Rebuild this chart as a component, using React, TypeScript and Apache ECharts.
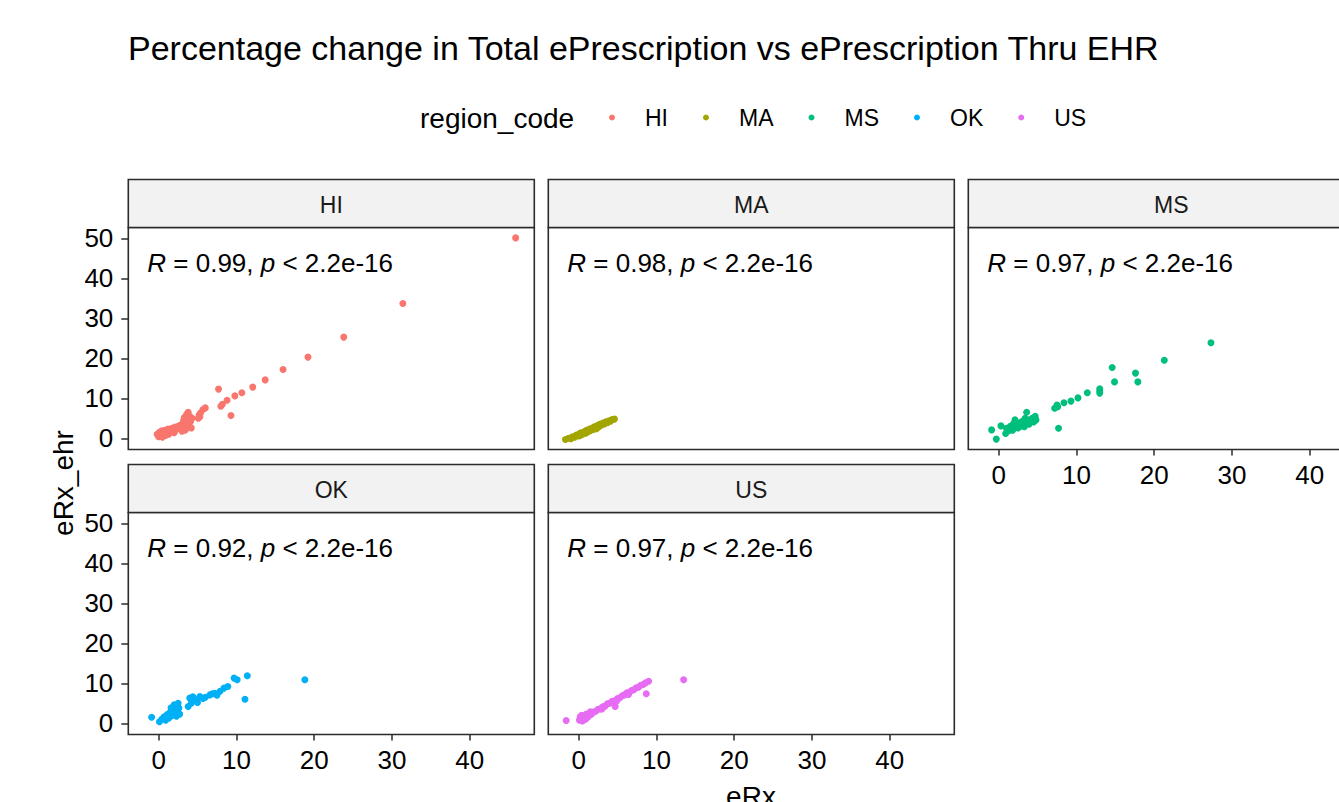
import React, { useEffect, useRef } from 'react';
import * as echarts from 'echarts';

const regions = ['HI', 'MA', 'MS', 'OK', 'US'];

const hiData = [
  [45.9, 50.1], [31.4, 33.7], [23.8, 25.3], [19.2, 20.3], [16.0, 17.2], [13.7, 14.6],
  [12.1, 12.8], [10.7, 11.4], [9.8, 10.6], [8.8, 9.5], [8.2, 8.5], [8.0, 8.0],
  [7.7, 12.3], [9.3, 5.7], [5.1, 5.0], [5.2, 5.8], [5.4, 6.4], [5.7, 7.2], [6.0, 7.6],
  [5.3, 5.4], [-0.2, 1.0], [0.0, 0.4], [0.1, 1.5], [0.3, 0.8], [0.4, 1.9], [0.5, 0.3],
  [0.6, 1.2], [0.8, 2.0], [0.9, 0.7], [1.0, 1.5], [1.2, 2.3], [1.3, 1.0], [1.5, 1.8],
  [1.7, 2.5], [1.9, 2.0], [2.1, 2.8], [2.3, 2.3], [2.5, 3.0], [2.6, 2.5], [2.8, 3.3],
  [3.0, 2.7], [3.1, 3.6], [3.2, 4.4], [3.3, 5.2], [3.4, 2.0], [3.5, 3.9], [3.6, 6.0],
  [3.7, 4.8], [3.8, 6.5], [3.9, 3.2], [4.0, 5.5], [4.1, 4.2], [4.2, 2.6], [4.3, 5.0],
  [3.0, 1.8], [2.0, 1.4], [3.6, 2.5],
];

const maData = [
  [-1.7, -0.3], [-1.3, 0.0], [-1.0, -0.1], [-0.8, 0.4], [-0.5, 0.3], [-0.3, 0.8],
  [0.0, 0.6], [0.1, 1.1], [0.3, 1.4], [0.5, 1.0], [0.7, 1.6], [0.9, 1.3], [1.0, 2.0],
  [1.2, 1.7], [1.4, 2.3], [1.5, 1.9], [1.7, 2.5], [1.9, 2.2], [2.0, 2.9], [2.2, 2.6],
  [2.4, 3.2], [2.6, 2.9], [2.7, 3.5], [2.9, 3.3], [3.1, 3.8], [3.3, 3.6], [3.5, 4.1],
  [3.7, 3.9], [3.9, 4.4], [4.1, 4.3], [4.3, 4.7], [4.6, 4.8], [0.2, 0.7], [1.1, 1.5],
  [2.3, 2.4],
];

const msData = [
  [27.3, 23.9], [21.3, 19.5], [14.6, 17.7], [14.9, 14.1], [17.6, 16.3], [17.9, 14.1],
  [13.0, 12.4], [13.0, 11.8], [13.0, 11.3], [11.4, 11.4], [10.2, 10.1], [9.3, 9.3],
  [8.4, 8.9], [7.5, 8.3], [7.2, 7.5], [7.6, 7.9], [7.7, 2.5], [3.6, 6.5], [-0.9, 2.1],
  [-0.3, -0.2], [0.3, 3.1], [0.9, 1.2], [1.0, 2.5], [1.3, 1.9], [1.5, 3.0], [1.7, 2.4],
  [1.9, 3.6], [2.0, 2.8], [2.2, 4.0], [2.3, 3.2], [2.5, 2.6], [2.6, 3.8], [2.8, 3.0],
  [3.0, 4.2], [3.1, 3.4], [3.3, 2.9], [3.5, 3.9], [3.7, 4.6], [3.9, 3.5], [4.1, 4.2],
  [4.3, 5.0], [4.5, 4.1], [4.7, 5.5], [4.8, 4.6], [2.1, 4.6], [1.8, 2.0], [3.4, 5.0],
];

const okData = [
  [18.8, 10.9], [11.4, 11.9], [11.1, 6.0], [10.1, 10.9], [9.7, 11.3], [8.9, 9.2],
  [8.4, 8.8], [7.9, 8.0], [7.2, 7.5], [6.6, 7.1], [6.0, 6.5], [5.3, 6.7], [4.8, 5.9],
  [4.4, 6.6], [4.0, 6.3], [3.8, 4.2], [4.2, 5.0], [5.0, 5.2], [5.7, 6.2], [6.9, 7.4],
  [7.5, 7.0], [-0.9, 1.5], [0.1, 0.4], [0.4, 1.0], [0.7, 1.6], [0.9, 0.8], [1.1, 2.2],
  [1.3, 1.3], [1.5, 2.8], [1.7, 1.9], [1.9, 3.5], [2.0, 2.5], [2.2, 4.2], [2.4, 3.0],
  [2.5, 5.0], [2.6, 3.8], [2.7, 2.3], [2.0, 4.6], [1.6, 3.9], [2.3, 1.8],
];

const usData = [
  [-1.6, 0.7], [13.5, 10.9], [9.0, 10.5], [8.7, 7.4], [4.7, 4.2], [0.1, 0.8], [0.2, 1.6],
  [0.3, 1.1], [0.4, 2.0], [0.5, 0.6], [0.6, 1.4], [0.8, 1.9], [0.9, 1.0], [1.0, 2.3],
  [1.2, 1.6], [1.4, 2.4], [1.6, 2.2], [1.9, 2.8], [2.2, 3.0], [2.5, 3.5], [2.8, 3.6],
  [3.1, 4.1], [3.4, 4.3], [3.7, 4.9], [4.0, 5.0], [4.3, 5.5], [4.6, 5.6], [5.0, 6.2],
  [5.3, 6.4], [5.6, 6.9], [5.9, 7.1], [6.2, 7.6], [6.5, 7.7], [6.8, 8.2], [7.1, 8.4],
  [7.4, 8.9], [7.7, 9.0], [8.0, 9.5], [8.3, 9.7], [8.6, 10.1], [1.5, 2.9], [3.0, 3.6],
  [4.9, 5.6], [6.4, 7.2],
];

const rValues = ['0.99', '0.98', '0.97', '0.92', '0.97'];
const pText = '2.2e-16';
const xTicks = [0, 10, 20, 30, 40];
const yTicks = [0, 10, 20, 30, 40, 50];
const xRange = [-3.9, 48.3];
const yRange = [-2.8, 52.7];

const palette = ['#F8766D', '#A3A500', '#00BF7D', '#00B0F6', '#E76BF3'];
const FONT = '"Liberation Sans", Arial, sans-serif';

// layout
const colLeft = [128.3, 548.3, 968.3];
const rowTop = [227.5, 512.5];
const PW = 406;
const PH = 222;
const STRIP = 48;
const panelCol = [0, 1, 2, 0, 1];
const panelRow = [0, 0, 0, 1, 1];
const showX = [false, false, true, true, true];
const showY = [true, false, false, true, false];

export default function App() {
  const ref = useRef<HTMLDivElement>(null);
  useEffect(() => {
    const chart = echarts.init(ref.current!, null, { renderer: 'svg' });
    const datasets = [hiData, maData, msData, okData, usData];
    const grids: any[] = [];
    const xAxes: any[] = [];
    const yAxes: any[] = [];
    const series: any[] = [];
    const graphics: any[] = [];
    regions.forEach((reg, i) => {
      const left = colLeft[panelCol[i]];
      const top = rowTop[panelRow[i]];
      grids.push({
        left, top, width: PW, height: PH, show: true,
        backgroundColor: '#fff', borderColor: '#2b2b2b', borderWidth: 1.6,
        containLabel: false, outerBoundsMode: 'none',
      });
      xAxes.push({
        type: 'value', gridIndex: i, min: xRange[0], max: xRange[1],
        axisLine: { show: false, onZero: false },
        splitLine: { show: false },
        axisTick: { show: showX[i], customValues: xTicks, length: 6, lineStyle: { color: '#2b2b2b', width: 1.5 } },
        axisLabel: { show: showX[i], customValues: xTicks, margin: 12, fontSize: 26, color: '#000', fontFamily: FONT },
      });
      yAxes.push({
        type: 'value', gridIndex: i, min: yRange[0], max: yRange[1],
        axisLine: { show: false, onZero: false },
        splitLine: { show: false },
        axisTick: { show: showY[i], customValues: yTicks, length: 7, lineStyle: { color: '#2b2b2b', width: 1.5 } },
        axisLabel: { show: showY[i], customValues: yTicks, margin: 15, fontSize: 26, color: '#000', fontFamily: FONT },
      });
      series.push({
        type: 'scatter', name: reg, xAxisIndex: i, yAxisIndex: i,
        data: datasets[i], symbolSize: 7, itemStyle: { color: palette[i], opacity: 1 },
      });
      graphics.push({
        type: 'rect', z: 100,
        shape: { x: left, y: top - STRIP, width: PW, height: STRIP },
        style: { fill: '#f2f2f2', stroke: '#2b2b2b', lineWidth: 1.6 },
      });
      graphics.push({
        type: 'text', z: 101, x: left + PW / 2, y: top - STRIP / 2 + 1,
        style: { text: reg, fontSize: 23, fill: '#1a1a1a', align: 'center', verticalAlign: 'middle', fontFamily: FONT },
      });
      graphics.push({
        type: 'text', z: 101, x: left + 19, y: top + 35.5,
        style: {
          text: `{i|R} = ${rValues[i]}, {i|p} < ${pText}`,
          fontSize: 26, fill: '#000', verticalAlign: 'middle', fontFamily: FONT,
          rich: { i: { fontStyle: 'italic', fontSize: 26, fill: '#000', fontFamily: FONT } },
        },
      });
    });

    graphics.push({
      type: 'text', z: 101, x: 128, y: 48,
      style: { text: 'Percentage change in Total ePrescription vs ePrescription Thru EHR', fontSize: 34, fill: '#000', verticalAlign: 'middle', fontFamily: FONT },
    });
    graphics.push({
      type: 'text', z: 101, x: 420, y: 118,
      style: { text: 'region_code', fontSize: 28, fill: '#000', verticalAlign: 'middle', fontFamily: FONT },
    });
    graphics.push({
      type: 'text', z: 101, x: 63, y: 483, rotation: Math.PI / 2,
      style: { text: 'eRx_ehr', fontSize: 28, fill: '#000', align: 'center', verticalAlign: 'middle', fontFamily: FONT },
    });
    graphics.push({
      type: 'text', z: 101, x: 751, y: 796,
      style: { text: 'eRx', fontSize: 28, fill: '#000', align: 'center', verticalAlign: 'middle', fontFamily: FONT },
    });

    chart.setOption({
      animation: false,
      backgroundColor: '#fff',
      textStyle: { fontFamily: FONT },
      grid: grids,
      xAxis: xAxes,
      yAxis: yAxes,
      series,
      legend: {
        data: regions, left: 609, top: 106, icon: 'circle', itemWidth: 6, itemHeight: 6,
        itemGap: 35, padding: 0,
        textStyle: { fontSize: 23, color: '#000', fontFamily: FONT, padding: [0, 0, 0, 25] },
      },
      graphic: graphics,
    });
    return () => chart.dispose();
  }, []);
  return (
    <div
      ref={ref}
      style={{ position: 'fixed', left: 0, top: 0, width: 1339, height: 802, background: '#fff' }}
    />
  );
}
